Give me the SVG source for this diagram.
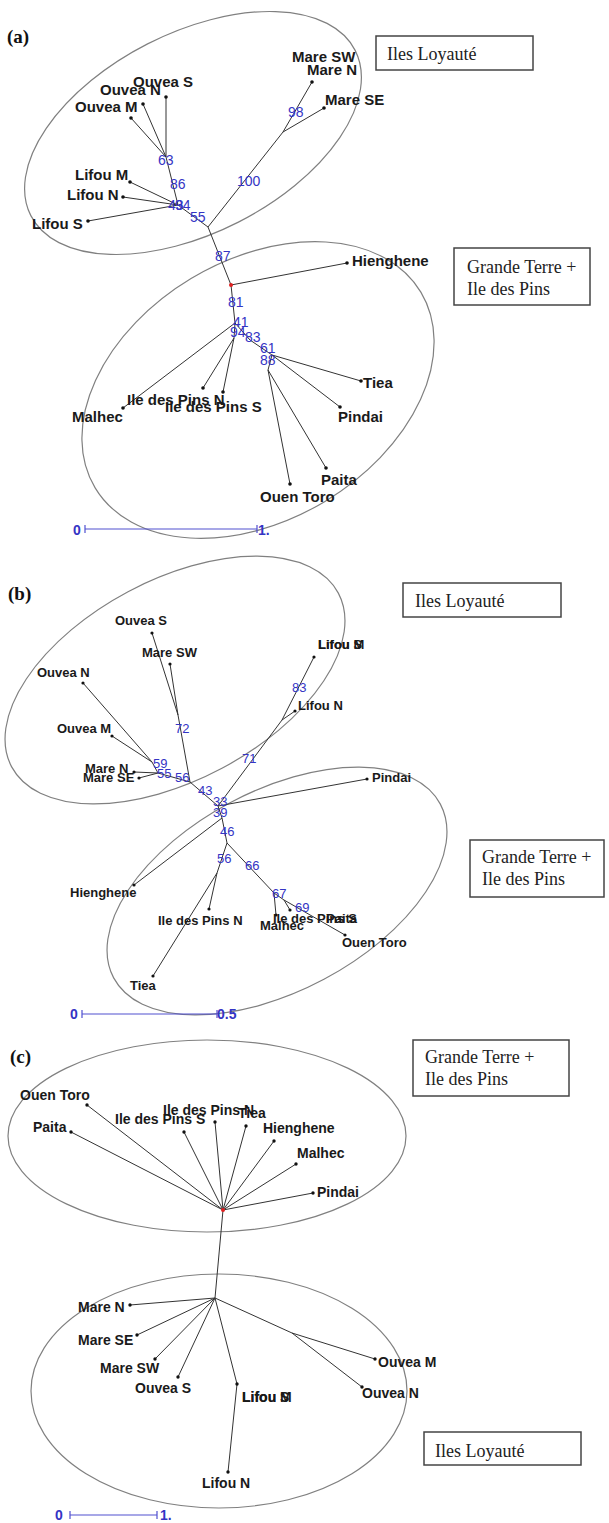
<svg xmlns="http://www.w3.org/2000/svg" width="609" height="1523" viewBox="0 0 609 1523">
<style>
.bg{fill:#fff}
.ell{fill:none;stroke:#808080;stroke-width:1.2}
.edge{stroke:#333;stroke-width:1;fill:none}
.dot{fill:#111}
.nm{font-family:"Liberation Sans",Arial,sans-serif;font-weight:bold;fill:#1a1a1a}
.a{font-size:15px}.b{font-size:13px}.c{font-size:14px}
.bs{font-family:"Liberation Sans",Arial,sans-serif;fill:#3434c4}
.ba{font-size:14px}.bb{font-size:13px}
.sc{font-family:"Liberation Sans",Arial,sans-serif;font-weight:bold;font-size:14px;fill:#3434c4}
.bar{stroke:#5050d0;stroke-width:1.2;fill:none}
.box{fill:#fff;stroke:#444;stroke-width:1.5}
.bt{font-family:"Liberation Serif","Times New Roman",serif;font-size:18px;fill:#222}
.pl{font-family:"Liberation Serif","Times New Roman",serif;font-size:19px;font-weight:bold;fill:#111}
.root{fill:#e02020}
</style>
<rect class="bg" x="0" y="0" width="609" height="1523"/>

<!-- ===== Panel (a) ===== -->
<g id="panel-a">
<text class="pl" x="7" y="43">(a)</text>
<g id="a-ellipses">
<ellipse class="ell" cx="193" cy="133" rx="182" ry="100" transform="rotate(-27 193 133)"/>
<ellipse class="ell" cx="258" cy="390" rx="190" ry="130" transform="rotate(-31 258 390)"/>
</g>
<g id="a-connectors">
<path class="edge" d="M166,97 L166,157 M143,104 L166,157 M131,118 L166,157 M166,157 L178,205 M130,182 L178,205 M123,197 L178,205 M88,221 L178,205 M178,205 L208,227 L283,132 M283,132 L312,82 M283,132 L324,108 M208,227 L231,285 L347,263 M231,285 L235,323 L123,408 M235,323 L234,338 L203,388 M234,338 L223,392 M235,323 L250,340 L272,355 L361,381 M272,355 L340,407 M272,355 L268,370 L326,468 M268,370 L290,484"/>
</g>
<g id="a-nodes">
<g id="a-ouvea-s"><circle class="dot" cx="166" cy="97" r="1.8"/><text class="nm a" x="133" y="87">Ouvea S</text></g>
<g id="a-ouvea-n"><circle class="dot" cx="143" cy="104" r="1.8"/><text class="nm a" x="100" y="95">Ouvea N</text></g>
<g id="a-ouvea-m"><circle class="dot" cx="131" cy="118" r="1.8"/><text class="nm a" x="75" y="112">Ouvea M</text></g>
<g id="a-lifou-m"><circle class="dot" cx="130" cy="182" r="1.8"/><text class="nm a" x="75" y="180">Lifou M</text></g>
<g id="a-lifou-n"><circle class="dot" cx="123" cy="197" r="1.8"/><text class="nm a" x="67" y="200">Lifou N</text></g>
<g id="a-lifou-s"><circle class="dot" cx="88" cy="221" r="1.8"/><text class="nm a" x="32" y="229">Lifou S</text></g>
<g id="a-mare-sw"><text class="nm a" x="292" y="62">Mare SW</text></g>
<g id="a-mare-n"><circle class="dot" cx="312" cy="82" r="1.8"/><text class="nm a" x="307" y="75">Mare N</text></g>
<g id="a-mare-se"><circle class="dot" cx="324" cy="108" r="1.8"/><text class="nm a" x="325" y="105">Mare SE</text></g>
<g id="a-root"><circle class="root" cx="231" cy="285" r="2"/></g>
<g id="a-hienghene"><circle class="dot" cx="347" cy="263" r="1.8"/><text class="nm a" x="352" y="266">Hienghene</text></g>
<g id="a-malhec"><circle class="dot" cx="123" cy="408" r="1.8"/><text class="nm a" x="72" y="422">Malhec</text></g>
<g id="a-idp-n"><circle class="dot" cx="203" cy="388" r="1.8"/><text class="nm a" x="127" y="405">Ile des Pins N</text></g>
<g id="a-idp-s"><circle class="dot" cx="223" cy="392" r="1.8"/><text class="nm a" x="165" y="412">Ile des Pins S</text></g>
<g id="a-tiea"><circle class="dot" cx="361" cy="381" r="1.8"/><text class="nm a" x="363" y="388">Tiea</text></g>
<g id="a-pindai"><circle class="dot" cx="340" cy="407" r="1.8"/><text class="nm a" x="338" y="422">Pindai</text></g>
<g id="a-paita"><circle class="dot" cx="326" cy="468" r="1.8"/><text class="nm a" x="321" y="485">Paita</text></g>
<g id="a-ouen-toro"><circle class="dot" cx="290" cy="484" r="1.8"/><text class="nm a" x="260" y="502">Ouen Toro</text></g>
</g>
<g id="a-bootstrap">
<text class="bs ba" x="158" y="165">63</text>
<text class="bs ba" x="170" y="189">86</text>
<text class="bs ba" x="168" y="210">43</text>
<text class="bs ba" x="175" y="210">94</text>
<text class="bs ba" x="190" y="222">55</text>
<text class="bs ba" x="237" y="186">100</text>
<text class="bs ba" x="288" y="117">98</text>
<text class="bs ba" x="215" y="261">87</text>
<text class="bs ba" x="228" y="307">81</text>
<text class="bs ba" x="233" y="327">41</text>
<text class="bs ba" x="230" y="337">94</text>
<text class="bs ba" x="245" y="342">83</text>
<text class="bs ba" x="260" y="353">61</text>
<text class="bs ba" x="260" y="365">88</text>
</g>
<g id="a-scale">
<path class="bar" d="M85,529 L257,529 M85,525 L85,533 M257,525 L257,533"/>
<text class="sc" x="73" y="535">0</text>
<text class="sc" x="258" y="535">1.</text>
</g>
<g id="a-box-iles"><rect class="box" x="376" y="36" width="157" height="34"/><text class="bt" x="387" y="60">Iles Loyauté</text></g>
<g id="a-box-gt"><rect class="box" x="454" y="248" width="136" height="57"/><text class="bt" x="467" y="273">Grande Terre +</text><text class="bt" x="467" y="295">Ile des Pins</text></g>
</g>

<!-- ===== Panel (b) ===== -->
<g id="panel-b">
<text class="pl" x="8" y="600">(b)</text>
<g id="b-ellipses">
<ellipse class="ell" cx="175" cy="680" rx="185" ry="100" transform="rotate(-28 175 680)"/>
<ellipse class="ell" cx="277" cy="891" rx="185" ry="100" transform="rotate(-28 277 891)"/>
</g>
<g id="b-connectors">
<path class="edge" d="M152,633 L178,715 M170,664 L178,715 M178,715 L190,782 M83,683 L152,762 M112,736 L152,762 M152,762 L158,773 M134,772 L158,773 M139,778 L158,773 M158,773 L190,782 L218,806 M314,657 L282,720 M295,711 L282,720 M282,720 L218,806 M218,806 L367,779 M218,806 L222,818 L134,885 M222,818 L227,843 L217,873 L209,909 M217,873 L153,976 M227,843 L274,893 L276,915 M274,893 L284,900 L290,910 M284,900 L345,935"/>
</g>
<g id="b-nodes">
<g id="b-ouvea-s"><circle class="dot" cx="152" cy="633" r="1.6"/><text class="nm b" x="115" y="625">Ouvea S</text></g>
<g id="b-mare-sw"><circle class="dot" cx="170" cy="664" r="1.6"/><text class="nm b" x="142" y="657">Mare SW</text></g>
<g id="b-ouvea-n"><circle class="dot" cx="83" cy="683" r="1.6"/><text class="nm b" x="37" y="677">Ouvea N</text></g>
<g id="b-ouvea-m"><circle class="dot" cx="112" cy="736" r="1.6"/><text class="nm b" x="57" y="733">Ouvea M</text></g>
<g id="b-lifou-s"><circle class="dot" cx="314" cy="657" r="1.6"/><text class="nm b" x="318" y="649">Lifou S</text></g>
<g id="b-lifou-m"><text class="nm b" x="318" y="649">Lifou M</text></g>
<g id="b-lifou-n"><circle class="dot" cx="295" cy="711" r="1.6"/><text class="nm b" x="298" y="710">Lifou N</text></g>
<g id="b-mare-n"><circle class="dot" cx="134" cy="772" r="1.6"/><text class="nm b" x="85" y="773">Mare N</text></g>
<g id="b-mare-se"><circle class="dot" cx="139" cy="778" r="1.6"/><text class="nm b" x="83" y="782">Mare SE</text></g>
<g id="b-pindai"><circle class="dot" cx="367" cy="779" r="1.6"/><text class="nm b" x="372" y="782">Pindai</text></g>
<g id="b-hienghene"><circle class="dot" cx="134" cy="885" r="1.6"/><text class="nm b" x="70" y="897">Hienghene</text></g>
<g id="b-idp-n"><circle class="dot" cx="209" cy="909" r="1.6"/><text class="nm b" x="158" y="925">Ile des Pins N</text></g>
<g id="b-tiea"><circle class="dot" cx="153" cy="976" r="1.6"/><text class="nm b" x="130" y="990">Tiea</text></g>
<g id="b-malhec"><circle class="dot" cx="276" cy="915" r="1.6"/><text class="nm b" x="260" y="930">Malhec</text></g>
<g id="b-idp-s"><circle class="dot" cx="290" cy="910" r="1.6"/><text class="nm b" x="273" y="923">Ile des Pins S</text></g>
<g id="b-paita"><text class="nm b" x="326" y="923">Paita</text></g>
<g id="b-ouen-toro"><circle class="dot" cx="345" cy="935" r="1.6"/><text class="nm b" x="342" y="947">Ouen Toro</text></g>
</g>
<g id="b-bootstrap">
<text class="bs bb" x="175" y="733">72</text>
<text class="bs bb" x="292" y="692">83</text>
<text class="bs bb" x="242" y="763">71</text>
<text class="bs bb" x="153" y="768">59</text>
<text class="bs bb" x="157" y="778">55</text>
<text class="bs bb" x="175" y="782">56</text>
<text class="bs bb" x="198" y="795">43</text>
<text class="bs bb" x="213" y="806">33</text>
<text class="bs bb" x="213" y="817">39</text>
<text class="bs bb" x="220" y="836">46</text>
<text class="bs bb" x="217" y="863">56</text>
<text class="bs bb" x="245" y="870">66</text>
<text class="bs bb" x="272" y="898">67</text>
<text class="bs bb" x="295" y="912">69</text>
</g>
<g id="b-scale">
<path class="bar" d="M82,1014 L217,1014 M82,1010 L82,1018 M217,1010 L217,1018"/>
<text class="sc" x="70" y="1019">0</text>
<text class="sc" x="217" y="1019">0.5</text>
</g>
<g id="b-box-iles"><rect class="box" x="403" y="583" width="158" height="34"/><text class="bt" x="415" y="607">Iles Loyauté</text></g>
<g id="b-box-gt"><rect class="box" x="470" y="840" width="134" height="57"/><text class="bt" x="482" y="863">Grande Terre +</text><text class="bt" x="482" y="885">Ile des Pins</text></g>
</g>

<!-- ===== Panel (c) ===== -->
<g id="panel-c">
<text class="pl" x="10" y="1063">(c)</text>
<g id="c-ellipses">
<ellipse class="ell" cx="207" cy="1136" rx="199" ry="96"/>
<ellipse class="ell" cx="219" cy="1391" rx="188" ry="117"/>
</g>
<g id="c-connectors">
<path class="edge" d="M223,1210 L87,1105 M223,1210 L71,1132 M223,1210 L184,1132 M223,1210 L215,1122 M223,1210 L246,1126 M223,1210 L274,1141 M223,1210 L296,1164 M223,1210 L313,1193 M223,1210 L215,1298 M215,1298 L130,1305 M215,1298 L137,1335 M215,1298 L155,1359 M215,1298 L178,1377 M215,1298 L237,1384 L228,1472 M215,1298 L292,1333 L375,1359 M292,1333 L362,1387"/>
</g>
<g id="c-nodes">
<g id="c-root"><circle class="root" cx="223" cy="1210" r="2"/></g>
<g id="c-ouen-toro"><circle class="dot" cx="87" cy="1105" r="1.7"/><text class="nm c" x="20" y="1100">Ouen Toro</text></g>
<g id="c-paita"><circle class="dot" cx="71" cy="1132" r="1.7"/><text class="nm c" x="33" y="1132">Paita</text></g>
<g id="c-idp-s"><circle class="dot" cx="184" cy="1132" r="1.7"/><text class="nm c" x="115" y="1124">Ile des Pins S</text></g>
<g id="c-idp-n"><circle class="dot" cx="215" cy="1122" r="1.7"/><text class="nm c" x="163" y="1115">Ile des Pins N</text></g>
<g id="c-tiea"><circle class="dot" cx="246" cy="1126" r="1.7"/><text class="nm c" x="238" y="1118">Tiea</text></g>
<g id="c-hienghene"><circle class="dot" cx="274" cy="1141" r="1.7"/><text class="nm c" x="263" y="1133">Hienghene</text></g>
<g id="c-malhec"><circle class="dot" cx="296" cy="1164" r="1.7"/><text class="nm c" x="297" y="1158">Malhec</text></g>
<g id="c-pindai"><circle class="dot" cx="313" cy="1193" r="1.7"/><text class="nm c" x="317" y="1197">Pindai</text></g>
<g id="c-mare-n"><circle class="dot" cx="130" cy="1305" r="1.7"/><text class="nm c" x="78" y="1312">Mare N</text></g>
<g id="c-mare-se"><circle class="dot" cx="137" cy="1335" r="1.7"/><text class="nm c" x="78" y="1345">Mare SE</text></g>
<g id="c-mare-sw"><circle class="dot" cx="155" cy="1359" r="1.7"/><text class="nm c" x="100" y="1373">Mare SW</text></g>
<g id="c-ouvea-s"><circle class="dot" cx="178" cy="1377" r="1.7"/><text class="nm c" x="135" y="1393">Ouvea S</text></g>
<g id="c-lifou-s"><circle class="dot" cx="237" cy="1384" r="1.7"/><text class="nm c" x="242" y="1402">Lifou S</text></g>
<g id="c-lifou-m"><text class="nm c" x="242" y="1402">Lifou M</text></g>
<g id="c-lifou-n"><circle class="dot" cx="228" cy="1472" r="1.7"/><text class="nm c" x="202" y="1488">Lifou N</text></g>
<g id="c-ouvea-m"><circle class="dot" cx="375" cy="1359" r="1.7"/><text class="nm c" x="378" y="1367">Ouvea M</text></g>
<g id="c-ouvea-n"><circle class="dot" cx="362" cy="1387" r="1.7"/><text class="nm c" x="362" y="1398">Ouvea N</text></g>
</g>
<g id="c-scale">
<path class="bar" d="M70,1515 L157,1515 M70,1511 L70,1519 M157,1511 L157,1519"/>
<text class="sc" x="55" y="1520">0</text>
<text class="sc" x="160" y="1520">1.</text>
</g>
<g id="c-box-gt"><rect class="box" x="413" y="1040" width="156" height="56"/><text class="bt" x="425" y="1063">Grande Terre +</text><text class="bt" x="425" y="1085">Ile des Pins</text></g>
<g id="c-box-iles"><rect class="box" x="424" y="1432" width="157" height="33"/><text class="bt" x="435" y="1457">Iles Loyauté</text></g>
</g>
</svg>
